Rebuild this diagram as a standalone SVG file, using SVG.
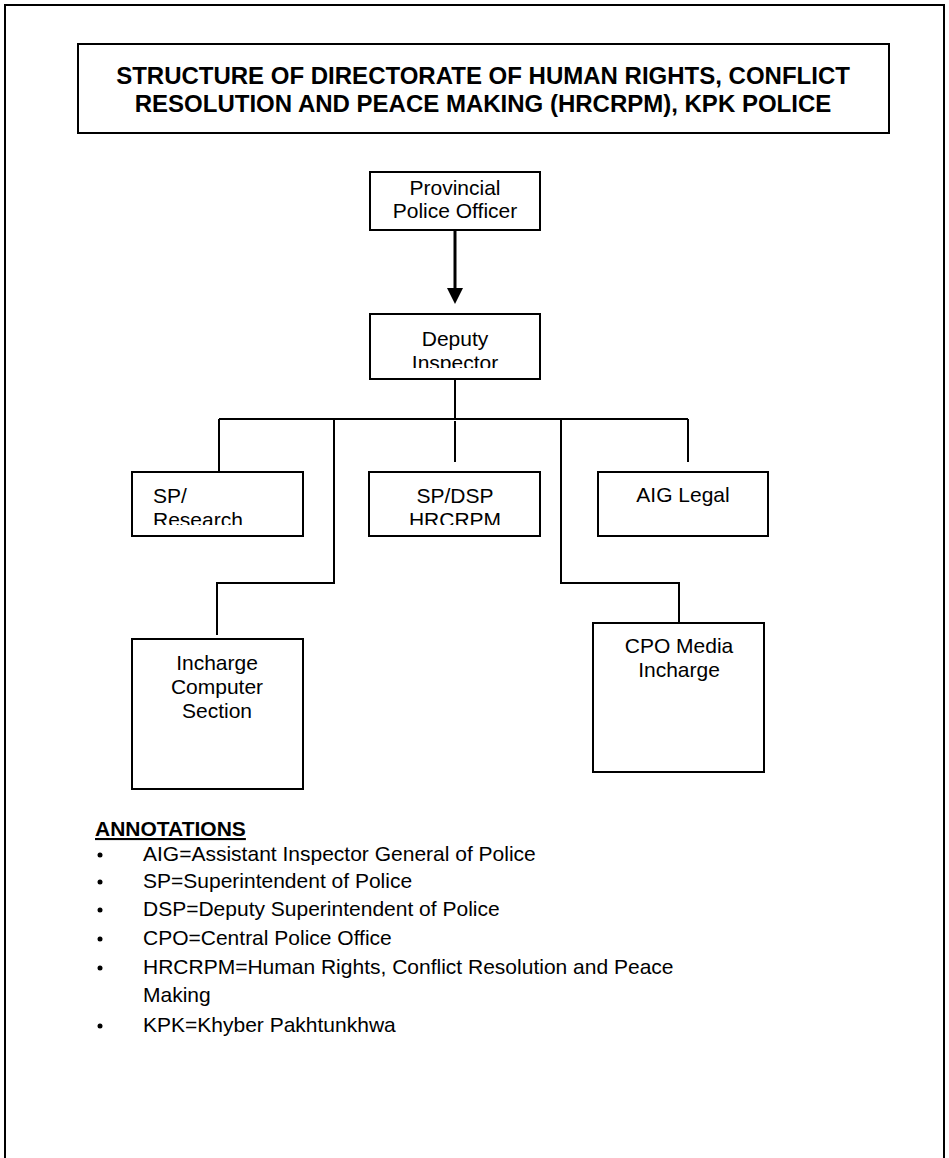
<svg xmlns="http://www.w3.org/2000/svg" width="949" height="1158" viewBox="0 0 949 1158">
<style>
.box{fill:#fff;stroke:#000;stroke-width:2}
.t{font-family:"Liberation Sans",Arial,sans-serif;font-size:21px;fill:#000}
.c{text-anchor:middle}
.title{font-family:"Liberation Sans",Arial,sans-serif;font-size:24px;font-weight:bold;fill:#000;text-anchor:middle}
.h{font-family:"Liberation Sans",Arial,sans-serif;font-size:21px;font-weight:bold;fill:#000;text-decoration:underline}
.ln{fill:none;stroke:#000;stroke-width:2}
</style>
<defs>
<clipPath id="cpP"><rect x="370" y="172" width="170" height="47"/></clipPath>
<clipPath id="cpD"><rect x="370" y="314" width="170" height="54"/></clipPath>
<clipPath id="cpR"><rect x="132" y="472" width="171" height="53"/></clipPath>
<clipPath id="cpS"><rect x="369" y="472" width="171" height="53"/></clipPath>
</defs>
<rect width="949" height="1158" fill="#fff"/>
<path d="M5,1158 V5 H944 V1158" fill="none" stroke="#000" stroke-width="2"/>
<g id="title">
<rect class="box" x="78" y="44" width="811" height="89"/>
<text class="title" x="483" y="84">STRUCTURE OF DIRECTORATE OF HUMAN RIGHTS, CONFLICT</text>
<text class="title" x="483" y="112">RESOLUTION AND PEACE MAKING (HRCRPM), KPK POLICE</text>
</g>
<g id="connectors">
<line x1="455" y1="230" x2="455" y2="289" stroke="#000" stroke-width="3"/>
<polygon points="447,288 463,288 455,304" fill="#000"/>
<path class="ln" d="M455,379 V419 M219,419 H688 M219,419 V476 M455,421 V462 M688,419 V462 M334,419 V583 H217 V635 M561,419 V583 H679 V622"/>
</g>
<g id="provincial">
<rect class="box" x="370" y="172" width="170" height="58"/>
<g clip-path="url(#cpP)">
<text class="t c" x="455" y="195">Provincial</text>
<text class="t c" x="455" y="218">Police Officer</text>
</g>
</g>
<g id="deputy">
<rect class="box" x="370" y="314" width="170" height="65"/>
<g clip-path="url(#cpD)">
<text class="t c" x="455" y="346">Deputy</text>
<text class="t c" x="455" y="370">Inspector</text>
</g>
</g>
<g id="sp-research">
<rect class="box" x="132" y="472" width="171" height="64"/>
<g clip-path="url(#cpR)">
<text class="t" x="153" y="503">SP/</text>
<text class="t" x="153" y="527">Research</text>
</g>
</g>
<g id="sp-dsp">
<rect class="box" x="369" y="472" width="171" height="64"/>
<g clip-path="url(#cpS)">
<text class="t c" x="455" y="503">SP/DSP</text>
<text class="t c" x="455" y="527">HRCRPM</text>
</g>
</g>
<g id="aig-legal">
<rect class="box" x="598" y="472" width="170" height="64"/>
<text class="t c" x="683" y="502">AIG Legal</text>
</g>
<g id="incharge-computer">
<rect class="box" x="132" y="639" width="171" height="150"/>
<text class="t c" x="217" y="670">Incharge</text>
<text class="t c" x="217" y="694">Computer</text>
<text class="t c" x="217" y="718">Section</text>
</g>
<g id="cpo-media">
<rect class="box" x="593" y="623" width="171" height="149"/>
<text class="t c" x="679" y="653">CPO Media</text>
<text class="t c" x="679" y="677">Incharge</text>
</g>
<g id="annotations">
<text class="h" x="95" y="836">ANNOTATIONS</text>
<g fill="#000">
<circle cx="100" cy="855" r="2.5"/>
<circle cx="100" cy="882" r="2.5"/>
<circle cx="100" cy="910" r="2.5"/>
<circle cx="100" cy="939" r="2.5"/>
<circle cx="100" cy="968" r="2.5"/>
<circle cx="100" cy="1026" r="2.5"/>
</g>
<text class="t" x="143" y="861">AIG=Assistant Inspector General of Police</text>
<text class="t" x="143" y="888">SP=Superintendent of Police</text>
<text class="t" x="143" y="916">DSP=Deputy Superintendent of Police</text>
<text class="t" x="143" y="945">CPO=Central Police Office</text>
<text class="t" x="143" y="974">HRCRPM=Human Rights, Conflict Resolution and Peace</text>
<text class="t" x="143" y="1002">Making</text>
<text class="t" x="143" y="1032">KPK=Khyber Pakhtunkhwa</text>
</g>
</svg>
